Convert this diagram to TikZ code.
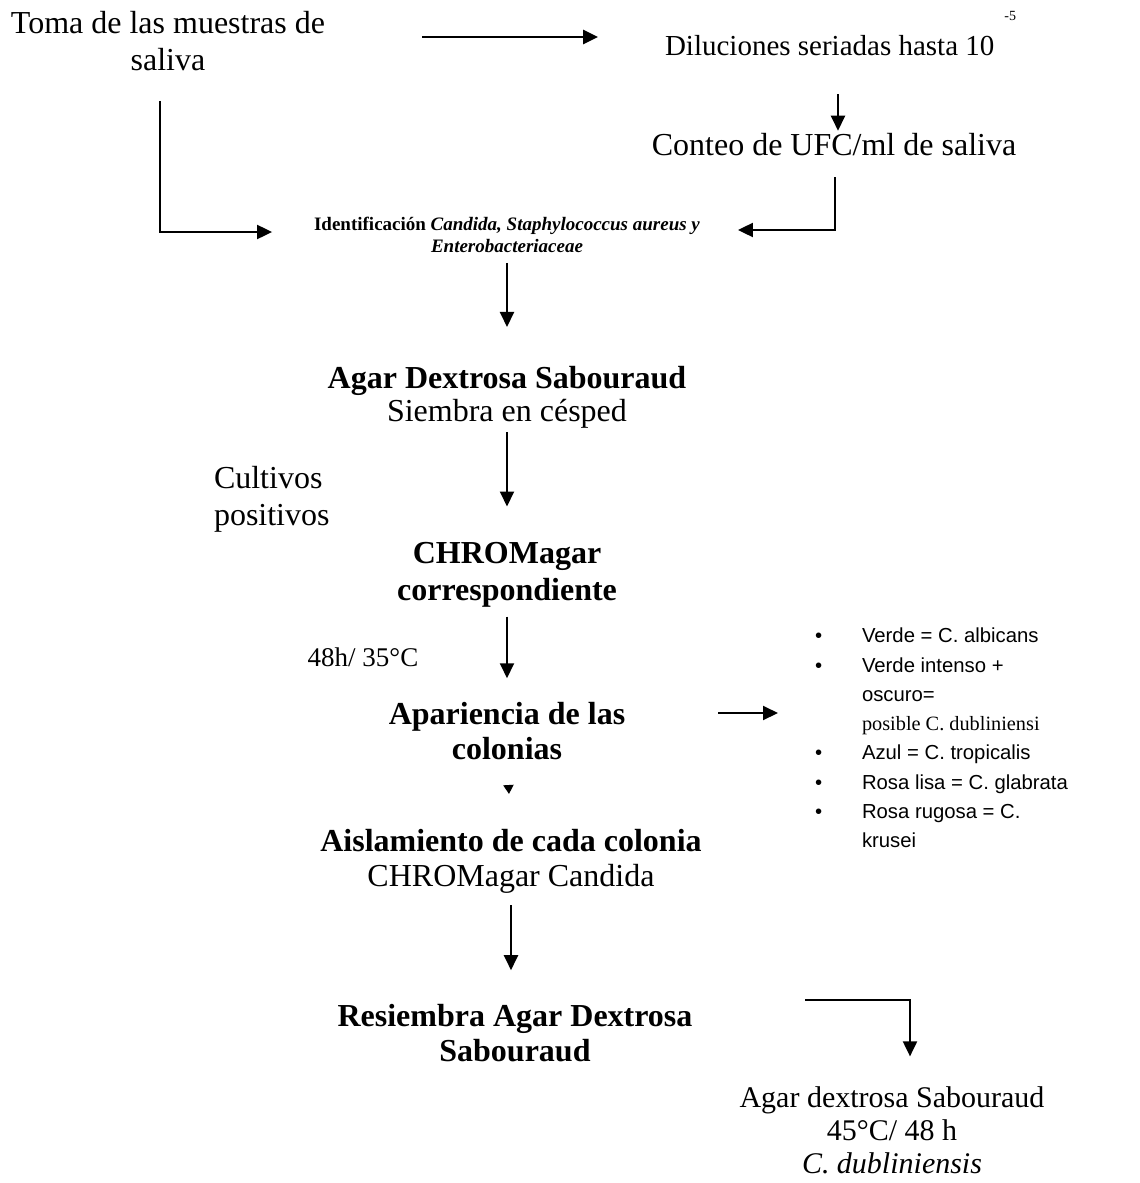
\documentclass[tikz,border=0pt]{standalone}
\usepackage{fontspec}
\setmainfont{Liberation Serif}
\newfontfamily\arialf{Liberation Sans}
\usetikzlibrary{arrows.meta,calc}
\begin{document}
\begin{tikzpicture}[x=1pt,y=-1pt,
  arr/.style={line width=2pt,-{Triangle[length=15pt,width=14pt]}},
  txt/.style={inner sep=0pt,outer sep=0pt,align=center,font=\fontsize{32}{37}\selectfont},
  smalltxt/.style={inner sep=0pt,outer sep=0pt,align=center,font=\fontsize{19}{22}\selectfont},
  cambria/.style={inner sep=0pt,outer sep=0pt,align=center,font=\fontsize{30}{33}\selectfont},
  listtxt/.style={inner sep=0pt,outer sep=0pt,align=left,font=\arialf\fontsize{20.3}{29.3}\selectfont}]
\useasboundingbox (0,0) rectangle (1140,1183);

\node[txt] (toma) at (168,41) {Toma de las muestras de\\saliva};
\node[txt,anchor=base west,font=\fontsize{29}{33}\selectfont] (dil) at (665,55) {Diluciones seriadas hasta 10\hspace{10pt}\raisebox{35pt}{\fontsize{14}{14}\selectfont -5}};
\node[txt] (conteo) at (834,145) {Conteo de UFC/ml de saliva};
\node[smalltxt] (ident) at (507,235) {\textbf{Identificación} {\bfseries\itshape Candida, Staphylococcus aureus y}\\{\bfseries\itshape Enterobacteriaceae}};
\node[txt,font=\fontsize{32}{33}\selectfont] (agar) at (507,397) {\textbf{Agar Dextrosa Sabouraud}\\Siembra en césped};
\node[txt,align=left,anchor=west] (cult) at (214,499) {Cultivos\\positivos};
\node[txt,font=\fontsize{32}{37}\selectfont\bfseries] (chrom) at (507,575) {CHROMagar\\correspondiente};
\node[inner sep=0pt,font=\fontsize{27}{30}\selectfont] (h48) at (363,657) {48h/ 35°C};
\node[txt,font=\fontsize{32}{35}\selectfont\bfseries] (apar) at (507,731) {Apariencia de las\\colonias};
\node[txt,font=\fontsize{32}{35}\selectfont] (aisl) at (511,861) {\textbf{Aislamiento de cada colonia}\\CHROMagar Candida};
\node[txt,font=\fontsize{32}{35}\selectfont\bfseries] (resi) at (515,1033) {Resiembra Agar Dextrosa\\Sabouraud};
\node[cambria] (final) at (892,1130) {Agar dextrosa Sabouraud\\45°C/ 48 h\\\textit{C. dubliniensis}};
\node[listtxt,anchor=west] (colores) at (815,738) {%
\makebox[47pt][l]{•}Verde = C. albicans\\
\makebox[47pt][l]{•}Verde intenso +\\
\hspace*{47pt}oscuro=\\
\hspace*{47pt}{\rmfamily posible C. dubliniensi}\\
\makebox[47pt][l]{•}Azul = C. tropicalis\\
\makebox[47pt][l]{•}Rosa lisa = C. glabrata\\
\makebox[47pt][l]{•}Rosa rugosa = C.\\
\hspace*{47pt}krusei};

\draw[arr,line width=2.6pt,shorten <=97pt,shorten >=67pt] ([yshift=4pt]toma.east) -- ([yshift=4pt]toma.east -| dil.west);
\draw[arr,shorten <=39pt,shorten >=3pt] ([xshift=4pt]conteo.north |- dil.south) -- ([xshift=4pt]conteo.north);
\draw[arr,shorten <=21pt,shorten >=38pt] ([xshift=1pt]conteo.south) |- ([yshift=5pt]ident.east);
\draw[arr,shorten <=30pt,shorten >=42pt] ([xshift=-8pt]toma.south) |- ([yshift=3pt]ident.west);
\draw[arr,shorten <=10pt,shorten >=39pt] (ident.south) -- (agar.north);
\draw[arr,shorten <=4pt,shorten >=36pt] (agar.south) -- (chrom.north);
\draw[arr,shorten <=9pt,shorten >=24pt] (chrom.south) -- (apar.north);
\draw[arr,shorten <=93pt,shorten >=37pt] ([yshift=18pt]apar.east) -- ([yshift=18pt]apar.east -| colores.west);
\draw[line width=2pt,-{Triangle[length=9pt,width=10pt]},shorten <=28pt,shorten >=35pt] (apar.south) -- (aisl.north);
\draw[arr,shorten <=12pt,shorten >=34pt] (aisl.south) -- (aisl.south |- resi.north);
\draw[arr,shorten <=113pt,shorten >=30pt] ([yshift=33pt]resi.east) -| ([xshift=18pt]final.north);
\end{tikzpicture}
\end{document}
